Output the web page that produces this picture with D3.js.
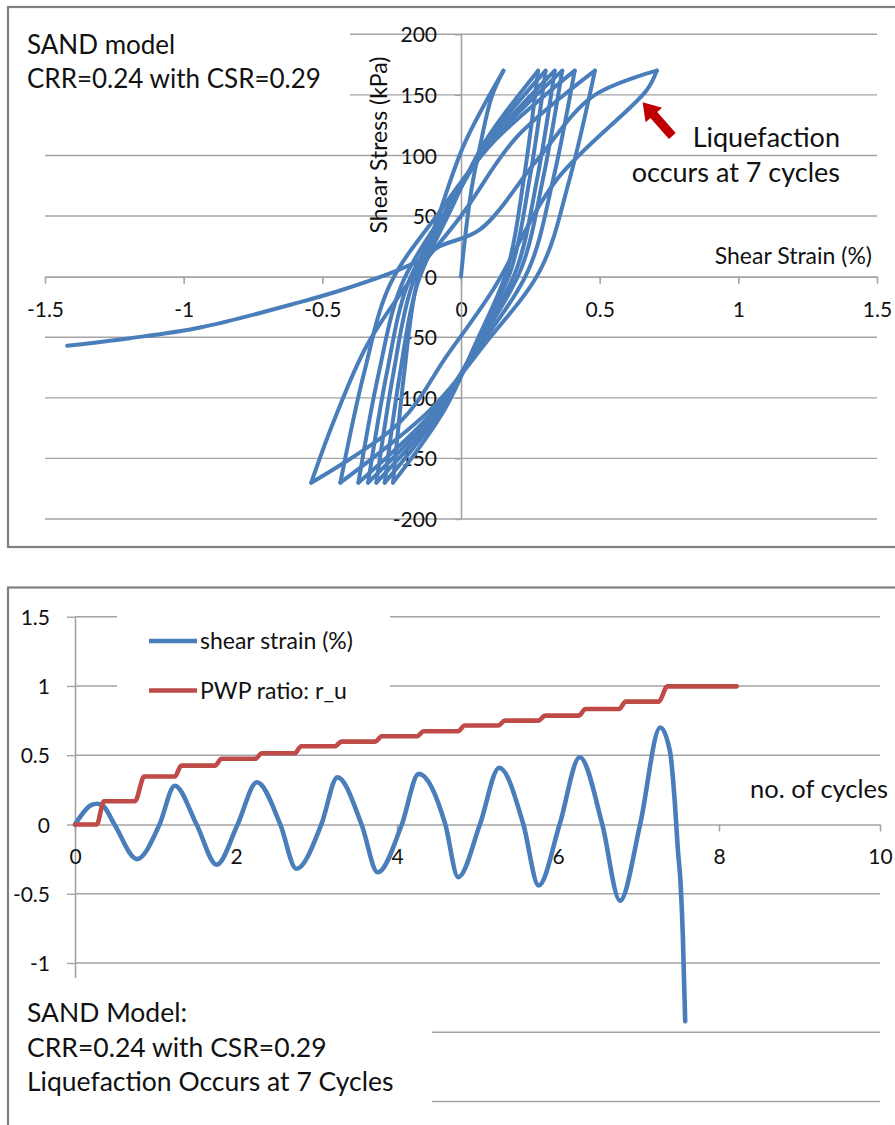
<!DOCTYPE html>
<html><head><meta charset="utf-8">
<script src="https://cdn.jsdelivr.net/npm/d3@7"></script>
<style>
html,body{margin:0;padding:0;background:#fff;}
svg{display:block;font-family:Lato,"Open Sans",sans-serif;}
</style></head><body>
<svg id="c" width="895" height="1125"></svg>
<script>
// ---------- DATA ----------
// Top chart: shear stress (kPa) vs shear strain (%)
const topXTicks = [-1.5, -1, -0.5, 0, 0.5, 1, 1.5];
const topXTickLabels = ["-1.5", "-1", "-0.5", "0", "0.5", "1", "1.5"];
const topYTicks = [200, 150, 100, 50, 0, -50, -100, -150, -200];
const topYTickLabels = ["200", "150", "100", "50", "0", "-50", "-100", "-150", "-200"];
// [shear strain %, shear stress kPa] along the loading path
const stressStrainPath = [
  [0, 0], [0.015, 33], [0.04, 75], [0.068, 107], [0.11, 148], [0.153, 170],
  [0.013, 110], [-0.074, 55], [-0.16, -6], [-0.205, -80], [-0.245, -170],
  [-0.06, -110], [0.053, -55], [0.167, 6], [0.226, 80], [0.278, 170],
  [0.083, 110], [-0.037, 55], [-0.157, -6], [-0.22, -80], [-0.275, -170],
  [-0.07, -110], [0.056, -55], [0.181, 6], [0.247, 80], [0.305, 170],
  [0.09, 110], [-0.043, 55], [-0.175, -6], [-0.244, -80], [-0.305, -170],
  [-0.078, -110], [0.06, -55], [0.2, 6], [0.274, 80], [0.338, 170],
  [0.1, 110], [-0.046, 55], [-0.192, -6], [-0.268, -80], [-0.335, -170],
  [-0.088, -110], [0.064, -55], [0.216, 6], [0.295, 80], [0.365, 170],
  [0.106, 110], [-0.054, 55], [-0.213, -6], [-0.297, -80], [-0.37, -170],
  [-0.095, -110], [0.075, -55], [0.244, 6], [0.332, 80], [0.41, 170],
  [0.112, 110], [-0.072, 55], [-0.255, -6], [-0.35, -80], [-0.435, -170],
  [-0.111, -110], [0.088, -55], [0.287, 6], [0.391, 80], [0.483, 170],
  [0.2, 115], [0.0, 50], [-0.18, -2], [-0.34, -57], [-0.46, -120], [-0.54, -170],
  [-0.22, -120], [-0.05, -65], [0.115, -11], [0.345, 80], [0.67, 154], [0.706, 170],
  [0.476, 149], [0.27, 95], [0.069, 39], [-0.076, 25], [-0.148, 14], [-0.22, 6],
  [-0.43, -11], [-0.58, -21], [-0.94, -42], [-1.2, -51], [-1.42, -57]
];
// Annotation arrow (data units): tail and head
const arrowTail = [0.762, 116];
const arrowHead = [0.655, 144];

// Bottom chart: vs number of cycles
const botXTicks = [0, 2, 4, 6, 8, 10];
const botXTickLabels = ["0", "2", "4", "6", "8", "10"];
const botYTicks = [1.5, 1, 0.5, 0, -0.5, -1];
const botYTickLabels = ["1.5", "1", "0.5", "0", "-0.5", "-1"];
const botGridValues = [1.5, 1, 0.5, -0.5, -1, -1.5, -2];

const strainCycles = [0, 0.2, 0.27, 0.34, 0.49, 0.77, 1.05, 1.24, 1.51, 1.76, 2.02, 2.26, 2.55, 2.75, 3.06, 3.26, 3.56, 3.76, 4.06, 4.27, 4.6, 4.76, 5.03, 5.27, 5.57, 5.76, 6.02, 6.27, 6.55, 6.77, 7.02, 7.27, 7.39, 7.45, 7.49, 7.52, 7.55, 7.58];
const shearStrain  = [0, 0.14, 0.15, 0.14, 0, -0.25, 0, 0.28, 0, -0.29, 0, 0.305, 0, -0.32, 0, 0.34, 0, -0.345, 0, 0.365, 0, -0.38, 0, 0.41, 0, -0.44, 0, 0.485, 0, -0.55, 0, 0.70, 0.53, 0.17, -0.19, -0.40, -0.79, -1.42];

const pwpCycles = [0, 0.27, 0.36, 0.745, 0.86, 1.24, 1.32, 1.74, 1.82, 2.24, 2.32, 2.73, 2.81, 3.23, 3.31, 3.73, 3.81, 4.25, 4.33, 4.76, 4.84, 5.26, 5.34, 5.76, 5.84, 6.26, 6.34, 6.76, 6.84, 7.25, 7.36, 8.22];
const pwpRatio  = [0, 0, 0.168, 0.168, 0.346, 0.346, 0.425, 0.425, 0.474, 0.474, 0.514, 0.514, 0.565, 0.565, 0.598, 0.598, 0.637, 0.637, 0.673, 0.673, 0.714, 0.714, 0.75, 0.75, 0.786, 0.786, 0.834, 0.834, 0.887, 0.887, 0.997, 0.997];

const legendLabels = ["shear strain (%)", "PWP ratio: r_u"];
const seriesColors = ["#4A7EBB", "#BE4B48"];

// ---------- DRAW ----------
const svg = d3.select("#c");
svg.append("rect").attr("width", 895).attr("height", 1125).attr("fill", "#fff");
const gridColor = "#a3a3a3";
const txt = "#111";
const tickFont = "21px";

// ===== TOP CHART =====
const xT = d3.scaleLinear().domain([-1.5, 1.5]).range([45, 877]);
const yT = d3.scaleLinear().domain([-200, 200]).range([519, 34.3]);
const gTop = svg.append("g");

gTop.selectAll("line.grid").data(topYTicks.filter(d => d !== 0)).join("line")
  .attr("x1", xT(-1.5)).attr("x2", xT(1.5))
  .attr("y1", d => yT(d)).attr("y2", d => yT(d))
  .attr("stroke", gridColor).attr("stroke-width", 1.4);

const gxT = gTop.append("g").attr("transform", `translate(0,${yT(0)})`)
  .call(d3.axisBottom(xT).tickValues(topXTicks).tickSize(7).tickSizeOuter(0)
    .tickFormat((d, i) => topXTickLabels[i]));
gxT.attr("font-family", null).attr("font-size", null);
gxT.select(".domain").attr("stroke", gridColor).attr("stroke-width", 1.6);
gxT.selectAll(".tick line").attr("stroke", gridColor).attr("stroke-width", 1.6);
gxT.selectAll(".tick text").attr("y", 40).attr("dy", null).attr("fill", txt).style("font-size", tickFont);

const gyT = gTop.append("g").attr("transform", `translate(${xT(0)},0)`)
  .call(d3.axisLeft(yT).tickValues(topYTicks).tickSize(6).tickSizeOuter(0)
    .tickFormat((d, i) => topYTickLabels[i]));
gyT.attr("font-family", null).attr("font-size", null);
gyT.select(".domain").attr("stroke", gridColor).attr("stroke-width", 1.6);
gyT.selectAll(".tick line").attr("stroke", gridColor).attr("stroke-width", 1.4);
gyT.selectAll(".tick text").attr("x", -24).attr("dy", "0.36em").attr("fill", txt).style("font-size", tickFont);

// split path into branches at the stress reversal points so that the corners stay sharp
const branches = [];
let cur = [];
stressStrainPath.forEach((p, i) => {
  cur.push(p);
  if (i > 0 && Math.abs(p[1]) === 170) { branches.push(cur); cur = [p]; }
});
if (cur.length > 1) branches.push(cur);
const lineT = d3.line().curve(d3.curveCatmullRom.alpha(0.5)).x(d => xT(d[0])).y(d => yT(d[1]));
gTop.selectAll("path.loop").data(branches).join("path")
  .attr("d", lineT)
  .attr("fill", "none").attr("stroke", seriesColors[0]).attr("stroke-width", 4)
  .attr("stroke-linejoin", "round").attr("stroke-linecap", "round");

// axis titles
gTop.append("text").attr("x", 872).attr("y", 264).attr("text-anchor", "end")
  .attr("fill", txt).style("font-size", "23px").text("Shear Strain (%)");
gTop.append("text").attr("transform", "translate(378,145) rotate(-90)")
  .attr("text-anchor", "middle").attr("dominant-baseline", "central")
  .attr("fill", txt).style("font-size", "23px").text("Shear Stress (kPa)");

// top-left text box
gTop.append("rect").attr("x", 10).attr("y", 9).attr("width", 340).attr("height", 96).attr("fill", "#fff");
gTop.append("text").attr("x", 27).attr("y", 54).attr("fill", txt).style("font-size", "26px").text("SAND model");
gTop.append("text").attr("x", 27).attr("y", 88).attr("fill", txt).style("font-size", "26px").text("CRR=0.24 with CSR=0.29");

// liquefaction annotation
gTop.append("text").attr("x", 840).attr("y", 147).attr("text-anchor", "end")
  .attr("fill", txt).style("font-size", "27px").text("Liquefaction");
gTop.append("text").attr("x", 840).attr("y", 182).attr("text-anchor", "end")
  .attr("fill", txt).style("font-size", "27px").text("occurs at 7 cycles");

(function drawArrow() {
  const tx = xT(arrowTail[0]), ty = yT(arrowTail[1]);
  const hx = xT(arrowHead[0]), hy = yT(arrowHead[1]);
  const L = Math.hypot(hx - tx, hy - ty);
  const ux = (hx - tx) / L, uy = (hy - ty) / L;
  const nx = -uy, ny = ux;
  const headLen = 17, headW = 11, shaftW = 4.5;
  const bx = hx - ux * headLen, by = hy - uy * headLen;
  const pts = [
    [tx + nx * shaftW, ty + ny * shaftW],
    [bx + nx * shaftW, by + ny * shaftW],
    [bx + nx * headW, by + ny * headW],
    [hx, hy],
    [bx - nx * headW, by - ny * headW],
    [bx - nx * shaftW, by - ny * shaftW],
    [tx - nx * shaftW, ty - ny * shaftW]
  ];
  gTop.append("polygon").attr("points", pts.map(p => p.join(",")).join(" ")).attr("fill", "#C00000");
})();

// frame
svg.append("rect").attr("x", 8).attr("y", 7).attr("width", 900).attr("height", 540)
  .attr("fill", "none").attr("stroke", "#808080").attr("stroke-width", 2.2);

// ===== BOTTOM CHART =====
const xB = d3.scaleLinear().domain([0, 10]).range([75, 880]);
const yB = d3.scaleLinear().domain([-2, 1.5]).range([1101.5, 616.7]);
const gBot = svg.append("g");

gBot.selectAll("line.grid").data(botGridValues).join("line")
  .attr("x1", xB(0)).attr("x2", xB(10))
  .attr("y1", d => yB(d)).attr("y2", d => yB(d))
  .attr("stroke", gridColor).attr("stroke-width", 1.4);

const gyB = gBot.append("g").attr("transform", `translate(${xB(0)},0)`)
  .call(d3.axisLeft(yB).tickValues(botYTicks).tickSize(8).tickSizeOuter(0)
    .tickFormat((d, i) => botYTickLabels[i]));
gyB.attr("font-family", null).attr("font-size", null);
gyB.select(".domain").attr("stroke", gridColor).attr("stroke-width", 1.6);
gyB.selectAll(".tick line").attr("stroke", gridColor).attr("stroke-width", 1.4);
gyB.selectAll(".tick text").attr("x", -25).attr("dy", "0.36em").attr("fill", txt).style("font-size", tickFont);

const gxB = gBot.append("g").attr("transform", `translate(0,${yB(0)})`)
  .call(d3.axisBottom(xB).tickValues(botXTicks).tickSize(7).tickSizeOuter(0)
    .tickFormat((d, i) => botXTickLabels[i]));
gxB.attr("font-family", null).attr("font-size", null);
gxB.select(".domain").attr("stroke", gridColor).attr("stroke-width", 1.6);
gxB.selectAll(".tick line").attr("stroke", gridColor).attr("stroke-width", 1.6);
gxB.selectAll(".tick text").attr("y", 40).attr("dy", null).attr("fill", txt).style("font-size", tickFont);

const lineB = d3.line().curve(d3.curveMonotoneX).x(d => xB(d[0])).y(d => yB(d[1]));
gBot.append("path").datum(strainCycles.map((c, i) => [c, shearStrain[i]]))
  .attr("d", lineB).attr("fill", "none").attr("stroke", seriesColors[0]).attr("stroke-width", 4.6)
  .attr("stroke-linejoin", "round").attr("stroke-linecap", "round");
gBot.append("path").datum(pwpCycles.map((c, i) => [c, pwpRatio[i]]))
  .attr("d", lineB).attr("fill", "none").attr("stroke", seriesColors[1]).attr("stroke-width", 4.6)
  .attr("stroke-linejoin", "round").attr("stroke-linecap", "round");

gBot.append("text").attr("x", 750).attr("y", 798).attr("fill", txt).style("font-size", "25.5px").text("no. of cycles");

// legend
gBot.append("rect").attr("x", 117).attr("y", 603).attr("width", 273).attr("height", 108).attr("fill", "#fff");
const legY = [641, 690.5];
legendLabels.forEach((lab, i) => {
  gBot.append("line").attr("x1", 149).attr("x2", 197).attr("y1", legY[i]).attr("y2", legY[i])
    .attr("stroke", seriesColors[i]).attr("stroke-width", 4.6);
  gBot.append("text").attr("x", 200).attr("y", legY[i]).attr("dy", "0.36em")
    .attr("fill", txt).style("font-size", "23px").text(lab);
});

// bottom-left text box
gBot.append("rect").attr("x", 10).attr("y", 978).attr("width", 422).attr("height", 145).attr("fill", "#fff");
["SAND Model:", "CRR=0.24 with CSR=0.29", "Liquefaction Occurs at 7 Cycles"].forEach((t, i) => {
  gBot.append("text").attr("x", 27).attr("y", 1022 + i * 34.5).attr("fill", txt).style("font-size", "26.5px").text(t);
});

svg.append("rect").attr("x", 8).attr("y", 587.5).attr("width", 900).attr("height", 545)
  .attr("fill", "none").attr("stroke", "#808080").attr("stroke-width", 2.2);
</script>
</body></html>
